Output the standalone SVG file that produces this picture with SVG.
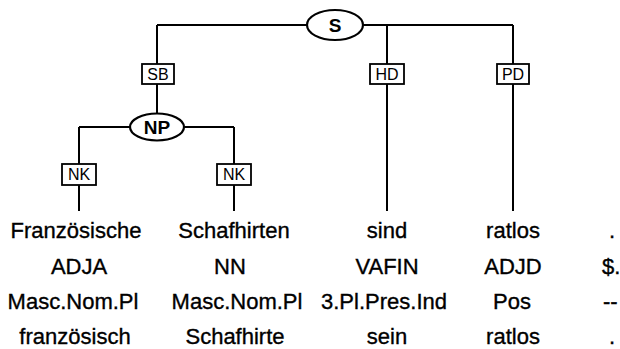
<svg xmlns="http://www.w3.org/2000/svg" width="620" height="349" viewBox="0 0 620 349">
<style>
.edge{stroke:#000;stroke-width:2;fill:none}
.cat{fill:#fff;stroke:#000;stroke-width:2.2}
.lab{fill:#fff;stroke:#000;stroke-width:1.8}
.ct{font-family:"Liberation Sans",Arial,sans-serif;font-weight:bold;font-size:19px;text-anchor:middle}
.lt{font-family:"Liberation Sans",Arial,sans-serif;font-size:16px;text-anchor:middle}
.wt{font-family:"Liberation Sans",Arial,sans-serif;font-size:22px;text-anchor:middle;fill:#000;stroke:#000;stroke-width:0.35}
.ws{font-family:"Liberation Sans",Arial,sans-serif;font-size:22px;fill:#000;stroke:#000;stroke-width:0.35}
</style>
<rect width="620" height="349" fill="#fff"/>
<g id="connectors">
<path class="edge" d="M157,25 H513 M157,25 V113 M387,25 V211 M513,25 V211"/>
<path class="edge" d="M79,127 H234 M79,127 V211 M234,127 V211"/>
</g>
<g id="S"><ellipse class="cat" cx="335" cy="25" rx="28" ry="15"/><text class="ct" x="335" y="32">S</text></g>
<g id="SB"><rect class="lab" x="142" y="64" width="32" height="20"/><text class="lt" x="158" y="80">SB</text></g>
<g id="HD"><rect class="lab" x="370" y="64" width="34" height="20"/><text class="lt" x="387" y="80">HD</text></g>
<g id="PD"><rect class="lab" x="497" y="64" width="32" height="20"/><text class="lt" x="513" y="80">PD</text></g>
<g id="NP"><ellipse class="cat" cx="157" cy="127" rx="27" ry="13.5"/><text class="ct" x="157" y="134">NP</text></g>
<g id="NK1"><rect class="lab" x="62" y="164" width="34" height="21"/><text class="lt" x="79" y="180">NK</text></g>
<g id="NK2"><rect class="lab" x="217" y="164" width="34" height="21"/><text class="lt" x="234" y="180">NK</text></g>
<g id="w1"><text class="wt" x="76" y="238">Französische</text><text class="wt" x="79" y="274">ADJA</text><text class="wt" x="73" y="309">Masc.Nom.Pl</text><text class="wt" x="75" y="344">französisch</text></g>
<g id="w2"><text class="wt" x="234" y="238">Schafhirten</text><text class="wt" x="230" y="274">NN</text><text class="wt" x="237" y="309">Masc.Nom.Pl</text><text class="wt" x="235" y="344">Schafhirte</text></g>
<g id="w3"><text class="wt" x="387" y="238">sind</text><text class="wt" x="387" y="274">VAFIN</text><text class="wt" x="384" y="309">3.Pl.Pres.Ind</text><text class="wt" x="387" y="344">sein</text></g>
<g id="w4"><text class="wt" x="513" y="238">ratlos</text><text class="wt" x="513" y="274">ADJD</text><text class="wt" x="512" y="309">Pos</text><text class="wt" x="513" y="344">ratlos</text></g>
<g id="w5"><text class="ws" x="609" y="238">.</text><text class="ws" x="602" y="274">$.</text><text class="ws" x="603" y="309">--</text><text class="ws" x="609" y="344">.</text></g>
</svg>
